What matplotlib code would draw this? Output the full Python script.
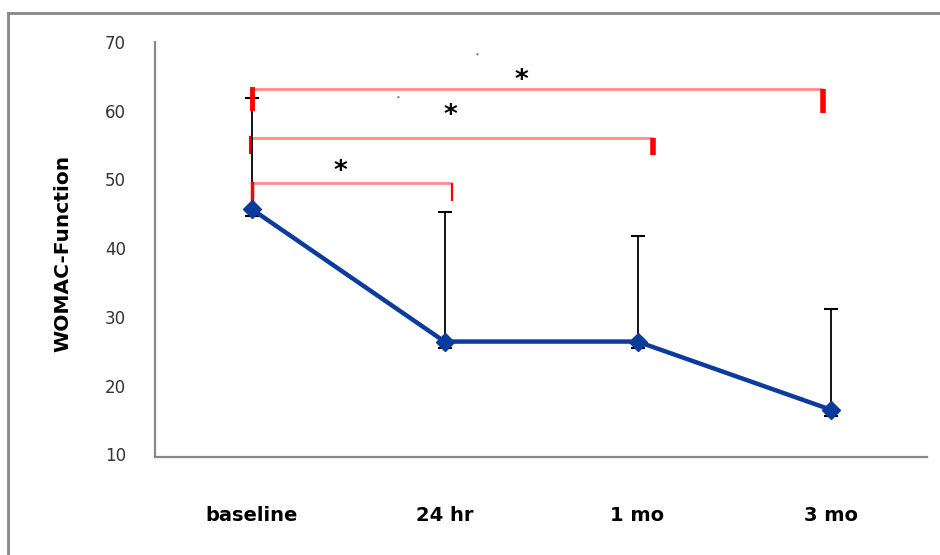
import matplotlib
matplotlib.use("Agg")
import matplotlib.pyplot as plt
from matplotlib.lines import Line2D

# data
categories = ["baseline", "24 hr", "1 mo", "3 mo"]
womac_mean = [45.7, 26.4, 26.4, 16.5]
err_upper = [16.2, 18.9, 15.3, 14.7]
err_lower = [1.0, 1.0, 1.0, 1.0]
yticks = [10, 20, 30, 40, 50, 60, 70]

# significance brackets: (bracket height, right end x, right tick bottom)
brackets = [
    (49.5, 1.54, 46.9),
    (56.0, 2.58, 53.6),
    (63.2, 3.46, 59.7),
]
stars = [(0.96, 51.1), (1.53, 59.2), (1.90, 64.3)]

W, H = 940, 555
fig = plt.figure(figsize=(W / 100, H / 100), dpi=100)
ax = fig.add_axes([155 / W, 1 - 457 / H, (927 - 155) / W, (457 - 42) / H])

x = [i + 0.5 for i in range(len(categories))]

# error bars (black, mostly upward)
ax.errorbar(x, womac_mean, yerr=[err_lower, err_upper], fmt="none",
            ecolor="black", elinewidth=1.3, capsize=5, capthick=1.5, zorder=3)

# significance brackets
for (yb, xr, ybot), tick_w in zip(brackets, [1.6, 4.0, 4.0]):
    ax.plot([x[0], xr], [yb, yb], color="#ff8c8c", lw=2, zorder=2,
            solid_capstyle="butt")
    ax.plot([xr, xr], [yb, ybot], color="red", lw=tick_w, zorder=2,
            solid_capstyle="butt")
ax.plot([x[0], x[0]], [49.5, 46.3], color="red", lw=2.5, zorder=4)
ax.plot([x[0] - 0.01, x[0] - 0.01], [56.2, 53.8], color="red", lw=1.5, zorder=4)
ax.plot([x[0], x[0]], [63.2, 60.4], color="red", lw=3.5, zorder=4)

for sx, sy in stars:
    ax.text(sx, sy, "*", fontsize=19, fontweight="bold", ha="center",
            va="center", color="black")
ax.text(1.67, 68.1, "*", fontsize=4, ha="center", va="center")
ax.text(1.26, 61.8, "*", fontsize=4, ha="center", va="center")

# main line
ax.plot(x, womac_mean, color="#0b3c9c", lw=3.2, marker="D", markersize=9,
        zorder=5)

ax.set_xlim(0, 4)
ax.set_ylim(9.6, 70)
ax.set_yticks(yticks)
ax.set_yticklabels([str(v) for v in yticks], fontsize=12, color="#333333")
ax.set_xticks(x)
ax.set_xticklabels(categories, fontsize=14, fontweight="bold")
ax.tick_params(axis="y", length=0, pad=21)
ax.tick_params(axis="x", length=0, pad=35)

for side in ["top", "right"]:
    ax.spines[side].set_visible(False)
for side in ["left", "bottom"]:
    ax.spines[side].set_color("#888888")
    ax.spines[side].set_linewidth(1.6)

ax.set_ylabel("WOMAC-Function", fontsize=14.5, fontweight="bold")
ax.yaxis.set_label_coords(-83 / (927 - 155), 0.49)

# outer frame (left and top edges visible)
fig.add_artist(Line2D([8 / W, 8 / W], [0, 1 - 13 / H], color="#888888", lw=2,
                      transform=fig.transFigure))
fig.add_artist(Line2D([8 / W, 1], [1 - 13 / H, 1 - 13 / H], color="#888888",
                      lw=2, transform=fig.transFigure))

fig.savefig("out.png", dpi=100)
